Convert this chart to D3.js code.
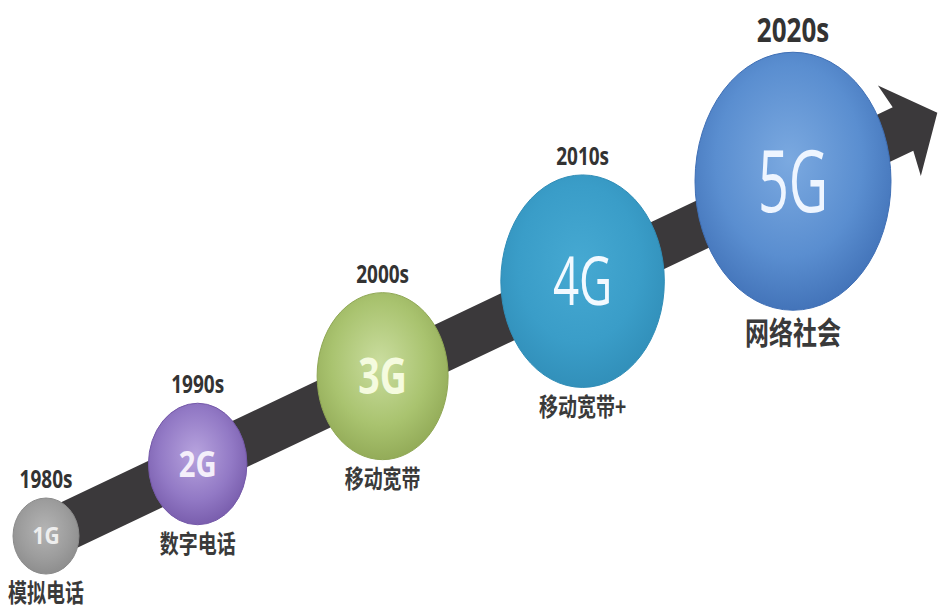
<!DOCTYPE html>
<html>
<head>
<meta charset="utf-8">
<script src="https://cdn.jsdelivr.net/npm/d3@7"></script>
<style>
  body { margin: 0; background: #fff; }
  svg { display: block; }
</style>
</head>
<body>
<svg id="chart" width="941" height="609"></svg>
<script>

// Generations, the decade of each one and what it brought
var generations = ["1G", "2G", "3G", "4G", "5G"];
var decades = ["1980s", "1990s", "2000s", "2010s", "2020s"];
var descriptions = ["模拟电话", "数字电话", "移动宽带", "移动宽带+", "网络社会"];

// Bubble colours: highlight, body, rim
var palette = [
    ["#b4b4b4", "#9d9d9d", "#8b8b8b"],
    ["#b7a3de", "#9279c5", "#7559a9"],
    ["#cadd9f", "#a9c36f", "#8fa754"],
    ["#46a9d2", "#3a9dc8", "#308db7"],
    ["#7ba9e0", "#5a8ed0", "#3f6fb5"]
];
var labelColors = ["#eeeeee", "#f4effa", "#f5fbdf", "#f2f9ff", "#eef5ff"];


/*****************************/
// Scales
/*****************************/

var svg = d3.select('#chart');
var index = d3.range(generations.length);
var last = generations.length - 1;

// Horizontal spot of each bubble (gaps grow a bit with the generation)
var xScale = d3.scalePow().exponent(1.15).domain([0, last]).range([46, 793]);

// Arrow runs from tail to head, bubbles sit on its centre line
var arrow = {x0: 25, y0: 546, x1: 903, y1: 129, halfBand: 24, halfHead: 50, tip: 38};
var yOnArrow = d3.scaleLinear().domain([arrow.x0, arrow.x1]).range([arrow.y0, arrow.y1]);

// Bubbles grow with the generation
var rxScale = d3.scaleLinear().domain([0, last]).range([33, 98]);
var ryScale = d3.scaleLinear().domain([0, last]).range([38, 129]);
var labelSize = d3.scaleLinear().domain([0, last]).range([21, 54]);
var labelStretch = d3.scaleLinear().domain([0, last]).range([1.1, 1.6]);

var cx = function(i) { return xScale(i); };
var cy = function(i) { return yOnArrow(xScale(i)); };


/*****************************/
// Arrow
/*****************************/

var len = Math.hypot(arrow.x1 - arrow.x0, arrow.y1 - arrow.y0);
var dir = [(arrow.x1 - arrow.x0) / len, (arrow.y1 - arrow.y0) / len];
var nrm = [-dir[1], dir[0]];

var pt = function(x, y, along, across) {
    return [x + dir[0] * along + nrm[0] * across, y + dir[1] * along + nrm[1] * across];
};

var arrowPoints = [
    pt(arrow.x0, arrow.y0, 0, -arrow.halfBand),
    pt(arrow.x1, arrow.y1, 0, -arrow.halfBand),
    pt(arrow.x1, arrow.y1, -4, -arrow.halfHead),
    pt(arrow.x1, arrow.y1, arrow.tip, 0),
    pt(arrow.x1, arrow.y1, -4, arrow.halfHead),
    pt(arrow.x1, arrow.y1, 0, arrow.halfBand),
    pt(arrow.x0, arrow.y0, 0, arrow.halfBand)
];

svg.append('path')
    .datum(arrowPoints)
    .attr('d', d3.line().curve(d3.curveLinearClosed))
    .attr('fill', '#3b393b');


/*****************************/
// Bubbles
/*****************************/

var defs = svg.append('defs');

var grads = defs.selectAll('radialGradient')
    .data(index)
    .enter()
    .append('radialGradient')
    .attr('id', function(i) { return 'bubble' + i; })
    .attr('cx', '48%')
    .attr('cy', '42%')
    .attr('r', '62%');

grads.append('stop').attr('offset', '0%').attr('stop-color', function(i) { return palette[i][0]; });
grads.append('stop').attr('offset', '60%').attr('stop-color', function(i) { return palette[i][1]; });
grads.append('stop').attr('offset', '100%').attr('stop-color', function(i) { return palette[i][2]; });

var groups = svg.selectAll('g.gen')
    .data(index)
    .enter()
    .append('g')
    .attr('class', 'gen');

groups.append('ellipse')
    .attr('cx', cx)
    .attr('cy', cy)
    .attr('rx', function(i) { return rxScale(i); })
    .attr('ry', function(i) { return ryScale(i); })
    .attr('fill', function(i) { return 'url(#bubble' + i + ')'; })
    .attr('stroke', function(i) { return palette[i][2]; })
    .attr('stroke-width', 1);

// Generation name inside the bubble
groups.append('text')
    .attr('transform', function(i) {
        return 'translate(' + cx(i) + ',' + cy(i) + ') scale(1,' + labelStretch(i) + ')';
    })
    .attr('y', function(i) { return labelSize(i) * 0.36; })
    .attr('text-anchor', 'middle')
    .attr('font-family', '"Open Sans", sans-serif')
    .attr('font-weight', function(i) { return i < 3 ? 'bold' : 'normal'; })
    .attr('font-size', function(i) { return labelSize(i); })
    .attr('fill', function(i) { return labelColors[i]; })
    .text(function(i) { return generations[i]; });

// Decade above the bubble
groups.append('text')
    .attr('transform', function(i) {
        return 'translate(' + cx(i) + ',' + (cy(i) - ryScale(i) - 10) + ') scale(1,1.3)';
    })
    .attr('text-anchor', 'middle')
    .attr('font-family', '"Open Sans", sans-serif')
    .attr('font-weight', 'bold')
    .attr('font-size', function(i) { return i === last ? 26 : 19; })
    .attr('fill', '#333')
    .text(function(i) { return decades[i]; });

// What the generation brought, below the bubble
groups.append('text')
    .attr('transform', function(i) {
        return 'translate(' + cx(i) + ',' + (cy(i) + ryScale(i) + 8) + ') scale(1,1.3)';
    })
    .attr('y', function(i) { return (i === last ? 24 : 19) * 0.82; })
    .attr('text-anchor', 'middle')
    .attr('font-family', '"Noto Sans CJK SC", sans-serif')
    .attr('font-weight', 'bold')
    .attr('font-size', function(i) { return i === last ? 24 : 19; })
    .attr('fill', '#3a3a3a')
    .text(function(i) { return descriptions[i]; });

</script>
</body>
</html>
